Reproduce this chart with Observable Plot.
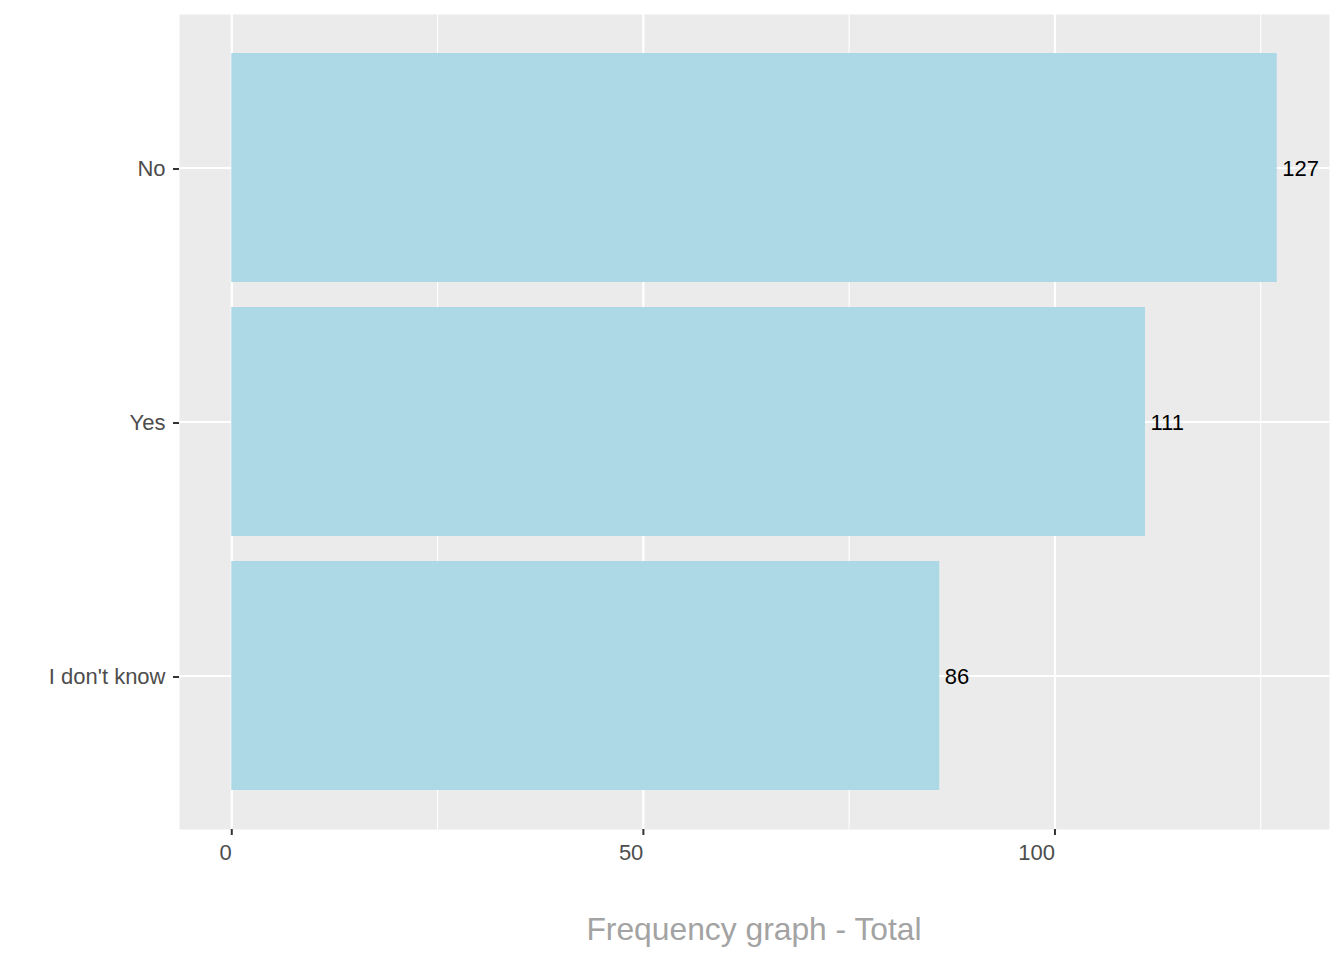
<!DOCTYPE html>
<html>
<head>
<meta charset="utf-8">
<script src="https://cdn.jsdelivr.net/npm/d3@7"></script>
<script src="https://cdn.jsdelivr.net/npm/@observablehq/plot@0.6"></script>
<style>
  html, body { margin: 0; padding: 0; background: #fff; }
  #wrap { width: 1344px; font-family: "Liberation Sans", Arial, sans-serif; }
  #title { width: 1344px; position: relative; height: 80px; }
  #title span { position: absolute; left: 754px; top: 31px; transform: translateX(-50%); font-size: 31.8px; color: #A3A3A3; white-space: nowrap; }
</style>
</head>
<body>
<div id="wrap"></div>
<script>
const categories = ["No", "Yes", "I don't know"];
const counts = [127, 111, 86];
const majorTicks = [0, 50, 100];
const minorTicks = [25, 75, 125];
const titleText = "Frequency graph - Total";

const data = categories.map((c, i) => ({category: c, count: counts[i]}));
const maxVal = d3.max(counts);
const pad = maxVal * 0.05;

const chart = Plot.plot({
  width: 1344,
  height: 880,
  marginLeft: 179,
  marginRight: 15,
  marginTop: 14,
  marginBottom: 51,
  style: {fontFamily: "'Liberation Sans', Arial, sans-serif", background: "#fff"},
  x: {domain: [-pad, maxVal + pad]},
  y: {domain: categories, paddingInner: 0.1, paddingOuter: 0.15},
  marks: [
    Plot.frame({fill: "#EBEBEB", stroke: null}),
    Plot.ruleX(minorTicks, {stroke: "#fff", strokeWidth: 1.1}),
    Plot.ruleX(majorTicks, {stroke: "#fff", strokeWidth: 2.2}),
    Plot.ruleY(categories, {y: d => d, stroke: "#fff", strokeWidth: 2.2}),
    Plot.barX(data, {x1: 0, x2: "count", y: "category", fill: "#ADD8E6"}),
    Plot.text(data, {x: "count", y: "category", text: d => String(d.count), textAnchor: "start", dx: 5, dy: 1, fontSize: 22, fill: "#000"}),
    Plot.axisX(majorTicks, {tickSize: 6, tickPadding: 9, fontSize: 22, textAnchor: "end", dx: 0, color: "#4D4D4D", stroke: "#333", strokeWidth: 2, label: null}),
    Plot.axisY(categories, {tickSize: 6, tickPadding: 8, fontSize: 22, dy: 1, color: "#4D4D4D", stroke: "#333", strokeWidth: 2, label: null})
  ]
});
document.getElementById("wrap").appendChild(chart);
const t = document.createElement("div");
t.id = "title";
t.innerHTML = "<span></span>";
t.querySelector("span").textContent = titleText;
document.getElementById("wrap").appendChild(t);
</script>
</body>
</html>
